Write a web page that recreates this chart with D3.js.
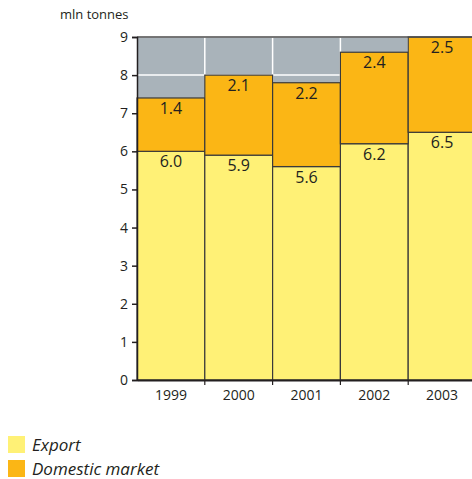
<!DOCTYPE html>
<html>
<head>
<meta charset="utf-8">
<script src="https://cdn.jsdelivr.net/npm/d3@7"></script>
<style>
  html, body { margin: 0; padding: 0; background: #fff; }
  svg { display: block; }
  text { font-family: "Open Sans", "DejaVu Sans", sans-serif; fill: #231f20; }
</style>
</head>
<body>
<svg id="chart" width="472" height="479"></svg>
<script>
// Production by destination, million tonnes
const years = ["1999", "2000", "2001", "2002", "2003"];
const exportValues = [6.0, 5.9, 5.6, 6.2, 6.5];
const domesticValues = [1.4, 2.1, 2.2, 2.4, 2.5];
const yTicks = [0, 1, 2, 3, 4, 5, 6, 7, 8, 9];
const seriesNames = ["Export", "Domestic market"];
const seriesColors = ["#fff176", "#fbb615"];
const unitLabel = "mln tonnes";

const svg = d3.select("#chart");
const plotLeft = 137, plotRight = 476, plotTop = 37, plotBottom = 380;

const x = d3.scaleBand().domain(years).range([plotLeft, plotRight]).padding(0);
const y = d3.scaleLinear().domain([0, 9]).range([plotBottom, plotTop]);

// plot background
svg.append("rect")
  .attr("x", plotLeft).attr("y", plotTop)
  .attr("width", plotRight - plotLeft).attr("height", plotBottom - plotTop)
  .attr("fill", "#a9b3ba");

// white grid
svg.append("g").selectAll("line").data(yTicks).join("line")
  .attr("x1", plotLeft).attr("x2", plotRight)
  .attr("y1", d => y(d)).attr("y2", d => y(d))
  .attr("stroke", "#fff").attr("stroke-width", 1.5);
svg.append("g").selectAll("line").data(years.slice(1)).join("line")
  .attr("x1", d => x(d)).attr("x2", d => x(d))
  .attr("y1", plotTop).attr("y2", plotBottom)
  .attr("stroke", "#fff").attr("stroke-width", 1.5);

// stacked bars
const rows = years.map((yr, i) => ({ year: yr, exp: exportValues[i], dom: domesticValues[i] }));
const stack = d3.stack().keys(["exp", "dom"])(rows);

svg.append("g").selectAll("g").data(stack).join("g")
  .attr("fill", (d, i) => seriesColors[i])
  .selectAll("rect").data(d => d).join("rect")
  .attr("x", d => x(d.data.year))
  .attr("width", x.bandwidth())
  .attr("y", d => y(d[1]))
  .attr("height", d => y(d[0]) - y(d[1]))
  .attr("stroke", "#3a3a3a").attr("stroke-width", 1.2);

// value labels near the top of each segment
svg.append("g").selectAll("g").data(stack).join("g")
  .selectAll("text").data(d => d).join("text")
  .attr("x", d => x(d.data.year) + x.bandwidth() / 2)
  .attr("y", d => y(d[1]) + 16)
  .attr("text-anchor", "middle")
  .attr("font-size", 16)
  .text(d => d3.format(".1f")(d[1] - d[0]));

// top frame line
svg.append("line")
  .attr("x1", plotLeft).attr("x2", plotRight).attr("y1", plotTop).attr("y2", plotTop)
  .attr("stroke", "#4a4a4a").attr("stroke-width", 1.5);

// axes
const yAxis = svg.append("g")
  .attr("transform", `translate(${plotLeft},0)`)
  .call(d3.axisLeft(y).tickValues(yTicks).tickSize(5).tickPadding(4).tickFormat(d3.format("d")));
yAxis.selectAll("text").attr("font-size", 14).attr("font-family", null);
yAxis.selectAll("line, path").attr("stroke", "#231f20").attr("stroke-width", 1.5);

const xAxis = svg.append("g")
  .attr("transform", `translate(0,${plotBottom})`)
  .call(d3.axisBottom(x).tickSize(0).tickPadding(10));
xAxis.selectAll("text").attr("font-size", 14).attr("font-family", null);
xAxis.select("path").attr("stroke", "#231f20").attr("stroke-width", 2);
// ticks at band boundaries
xAxis.selectAll("line.sep").data(years.slice(1)).join("line")
  .attr("class", "sep")
  .attr("x1", d => x(d)).attr("x2", d => x(d))
  .attr("y1", 0).attr("y2", 5)
  .attr("stroke", "#231f20").attr("stroke-width", 1.2);

// unit label
svg.append("text")
  .attr("x", 60).attr("y", 19)
  .attr("font-size", 13)
  .text(unitLabel);

// legend
const legend = svg.append("g").selectAll("g").data(seriesNames).join("g")
  .attr("transform", (d, i) => `translate(8,${436 + i * 24})`);
legend.append("rect")
  .attr("width", 17).attr("height", 17)
  .attr("fill", (d, i) => seriesColors[i]);
legend.append("text")
  .attr("x", 24).attr("y", 15)
  .attr("font-size", 17)
  .attr("font-style", "italic")
  .text(d => d);
</script>
</body>
</html>
